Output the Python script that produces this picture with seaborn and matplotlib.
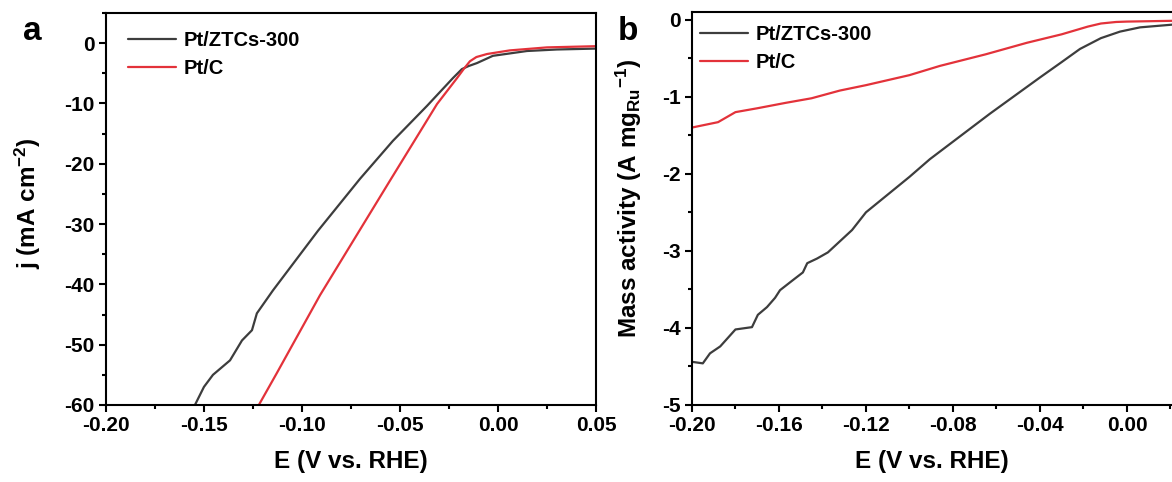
import matplotlib
matplotlib.use("Agg")
import matplotlib.pyplot as plt
from matplotlib.ticker import MultipleLocator, FuncFormatter
import seaborn as sns
import pandas as pd

# ---- data ----
E_ztc_a = [-0.1546, -0.150, -0.1454, -0.1367, -0.1306, -0.1255, -0.123, -0.1148,
           -0.0918, -0.0704, -0.0536, -0.0362, -0.023, -0.0184, -0.015, -0.0107,
           -0.0026, 0.0148, 0.030, 0.050]
j_ztc_a = [-60, -57, -55, -52.6, -49.3, -47.6, -44.8, -41,
           -31.1, -22.5, -16.2, -10.4, -5.8, -4.3, -3.8, -3.3,
           -2.1, -1.3, -1.05, -0.9]
E_ptc_a = [-0.122, -0.1128, -0.0908, -0.0551, -0.0311, -0.0209, -0.0175, -0.0143,
           -0.011, -0.0056, 0.006, 0.025, 0.050]
j_ptc_a = [-60, -54.7, -41.8, -22.8, -10.1, -5.8, -4.3, -3.0,
           -2.3, -1.8, -1.2, -0.7, -0.5]

E_ztc_b = [-0.200, -0.195, -0.1917, -0.187, -0.180, -0.1724, -0.1697, -0.1655,
           -0.1618, -0.1595, -0.1536, -0.149, -0.147, -0.1425, -0.1375, -0.1264,
           -0.120, -0.100, -0.0906, -0.063, -0.040, -0.030, -0.0216, -0.012,
           -0.0032, 0.006, 0.0207]
m_ztc_b = [-4.44, -4.46, -4.33, -4.24, -4.02, -3.99, -3.83, -3.73,
           -3.61, -3.51, -3.38, -3.28, -3.16, -3.10, -3.02, -2.73,
           -2.50, -2.04, -1.81, -1.22, -0.75, -0.55, -0.38, -0.24,
           -0.155, -0.10, -0.065]
E_ptc_b = [-0.200, -0.188, -0.180, -0.170, -0.157, -0.145, -0.132, -0.120,
           -0.100, -0.086, -0.065, -0.046, -0.030, -0.018, -0.012, -0.005,
           0.000, 0.0207]
m_ptc_b = [-1.40, -1.33, -1.20, -1.15, -1.08, -1.02, -0.92, -0.85,
           -0.72, -0.60, -0.45, -0.30, -0.19, -0.09, -0.05, -0.03,
           -0.025, -0.015]

labels = ["Pt/ZTCs-300", "Pt/C"]
colors = ["#3d3d3d", "#e3323a"]

df_a = pd.concat([
    pd.DataFrame({"E": E_ztc_a, "y": j_ztc_a, "s": labels[0]}),
    pd.DataFrame({"E": E_ptc_a, "y": j_ptc_a, "s": labels[1]}),
])
df_b = pd.concat([
    pd.DataFrame({"E": E_ztc_b, "y": m_ztc_b, "s": labels[0]}),
    pd.DataFrame({"E": E_ptc_b, "y": m_ptc_b, "s": labels[1]}),
])

sns.set_style("ticks")
plt.rcParams["font.family"] = ["Liberation Sans", "DejaVu Sans"]
plt.rcParams["font.weight"] = "bold"
plt.rcParams["axes.labelweight"] = "bold"
plt.rcParams["axes.unicode_minus"] = False
plt.rcParams["text.color"] = "black"
plt.rcParams["axes.labelcolor"] = "black"
plt.rcParams["xtick.color"] = "black"
plt.rcParams["ytick.color"] = "black"
plt.rcParams["mathtext.fontset"] = "custom"
plt.rcParams["mathtext.rm"] = "Liberation Sans:bold"
plt.rcParams["mathtext.bf"] = "Liberation Sans:bold"
plt.rcParams["mathtext.it"] = "Liberation Sans:bold"
plt.rcParams["mathtext.default"] = "bf"


def fmt(decimals):
    def f(v, pos):
        s = f"{v:.{decimals}f}"
        if s.startswith("-") and float(s) == 0:
            s = s[1:]
        return s
    return FuncFormatter(f)


fig = plt.figure(figsize=(11.72, 4.82), dpi=100)
ax1 = fig.add_axes([0.0904, 0.1598, 0.4181, 0.8132])
ax2 = fig.add_axes([0.5904, 0.1598, 0.4096, 0.8154])

pal = dict(zip(labels, colors))
sns.lineplot(data=df_a, x="E", y="y", hue="s", palette=pal, ax=ax1, lw=1.6,
             sort=False, estimator=None)
sns.lineplot(data=df_b, x="E", y="y", hue="s", palette=pal, ax=ax2, lw=1.6,
             sort=False, estimator=None)

ax1.set_xlim(-0.2, 0.05)
ax1.set_ylim(-60, 5)
ax1.xaxis.set_major_locator(MultipleLocator(0.05))
ax1.xaxis.set_minor_locator(MultipleLocator(0.025))
ax1.yaxis.set_major_locator(MultipleLocator(10))
ax1.yaxis.set_minor_locator(MultipleLocator(5))
ax1.xaxis.set_major_formatter(fmt(2))
ax1.yaxis.set_major_formatter(fmt(0))
ax1.set_xlabel("E (V vs. RHE)", fontsize=17.5, color="black")
ax1.set_ylabel(r"j (mA cm$^{-2}$)", fontsize=17.5, color="black")
ax1.xaxis.set_label_coords(0.5, -0.115)
ax1.yaxis.set_label_coords(-0.128, 0.515)

ax2.set_xlim(-0.2, 0.0207)
ax2.set_ylim(-5, 0.1)
ax2.xaxis.set_major_locator(MultipleLocator(0.04))
ax2.xaxis.set_minor_locator(MultipleLocator(0.02))
ax2.yaxis.set_major_locator(MultipleLocator(1))
ax2.yaxis.set_minor_locator(MultipleLocator(0.5))
ax2.xaxis.set_major_formatter(fmt(2))
ax2.yaxis.set_major_formatter(fmt(0))
ax2.set_xlabel("E (V vs. RHE)", fontsize=17.5, color="black")
ax2.set_ylabel(r"Mass activity (A mg$_{Ru}$$^{-1}$)", fontsize=17.5, color="black")
ax2.xaxis.set_label_coords(0.5, -0.115)
ax2.yaxis.set_label_coords(-0.10, 0.525)
ax2.spines["right"].set_visible(False)

for ax in (ax1, ax2):
    for sp in ax.spines.values():
        sp.set_linewidth(1.5)
        sp.set_color("black")
    ax.tick_params(which="major", direction="out", length=5, width=1.5,
                   labelsize=15, colors="black", pad=3)
    ax.tick_params(which="minor", direction="out", length=3, width=1.5,
                   colors="black")
    for t in ax.get_xticklabels() + ax.get_yticklabels():
        t.set_fontweight("bold")

leg_pos = {ax1: (0.045, 0.955), ax2: (0.017, 0.967)}
for ax in (ax1, ax2):
    leg = ax.legend(loc="upper left", frameon=False, fontsize=14.5,
                    handlelength=2.4, handletextpad=0.35, borderaxespad=0,
                    borderpad=0, labelspacing=0.45, bbox_to_anchor=leg_pos[ax])
    for t in leg.get_texts():
        t.set_fontweight("bold")
        t.set_color("black")
    for h in leg.get_lines():
        h.set_linewidth(1.6)

fig.text(0.02, 1 - 40 / 482, "a", fontsize=24, fontweight="bold", va="baseline",
         color="black")
fig.text(0.527, 1 - 40 / 482, "b", fontsize=24, fontweight="bold", va="baseline",
         color="black")

fig.savefig("out.png", dpi=100)
